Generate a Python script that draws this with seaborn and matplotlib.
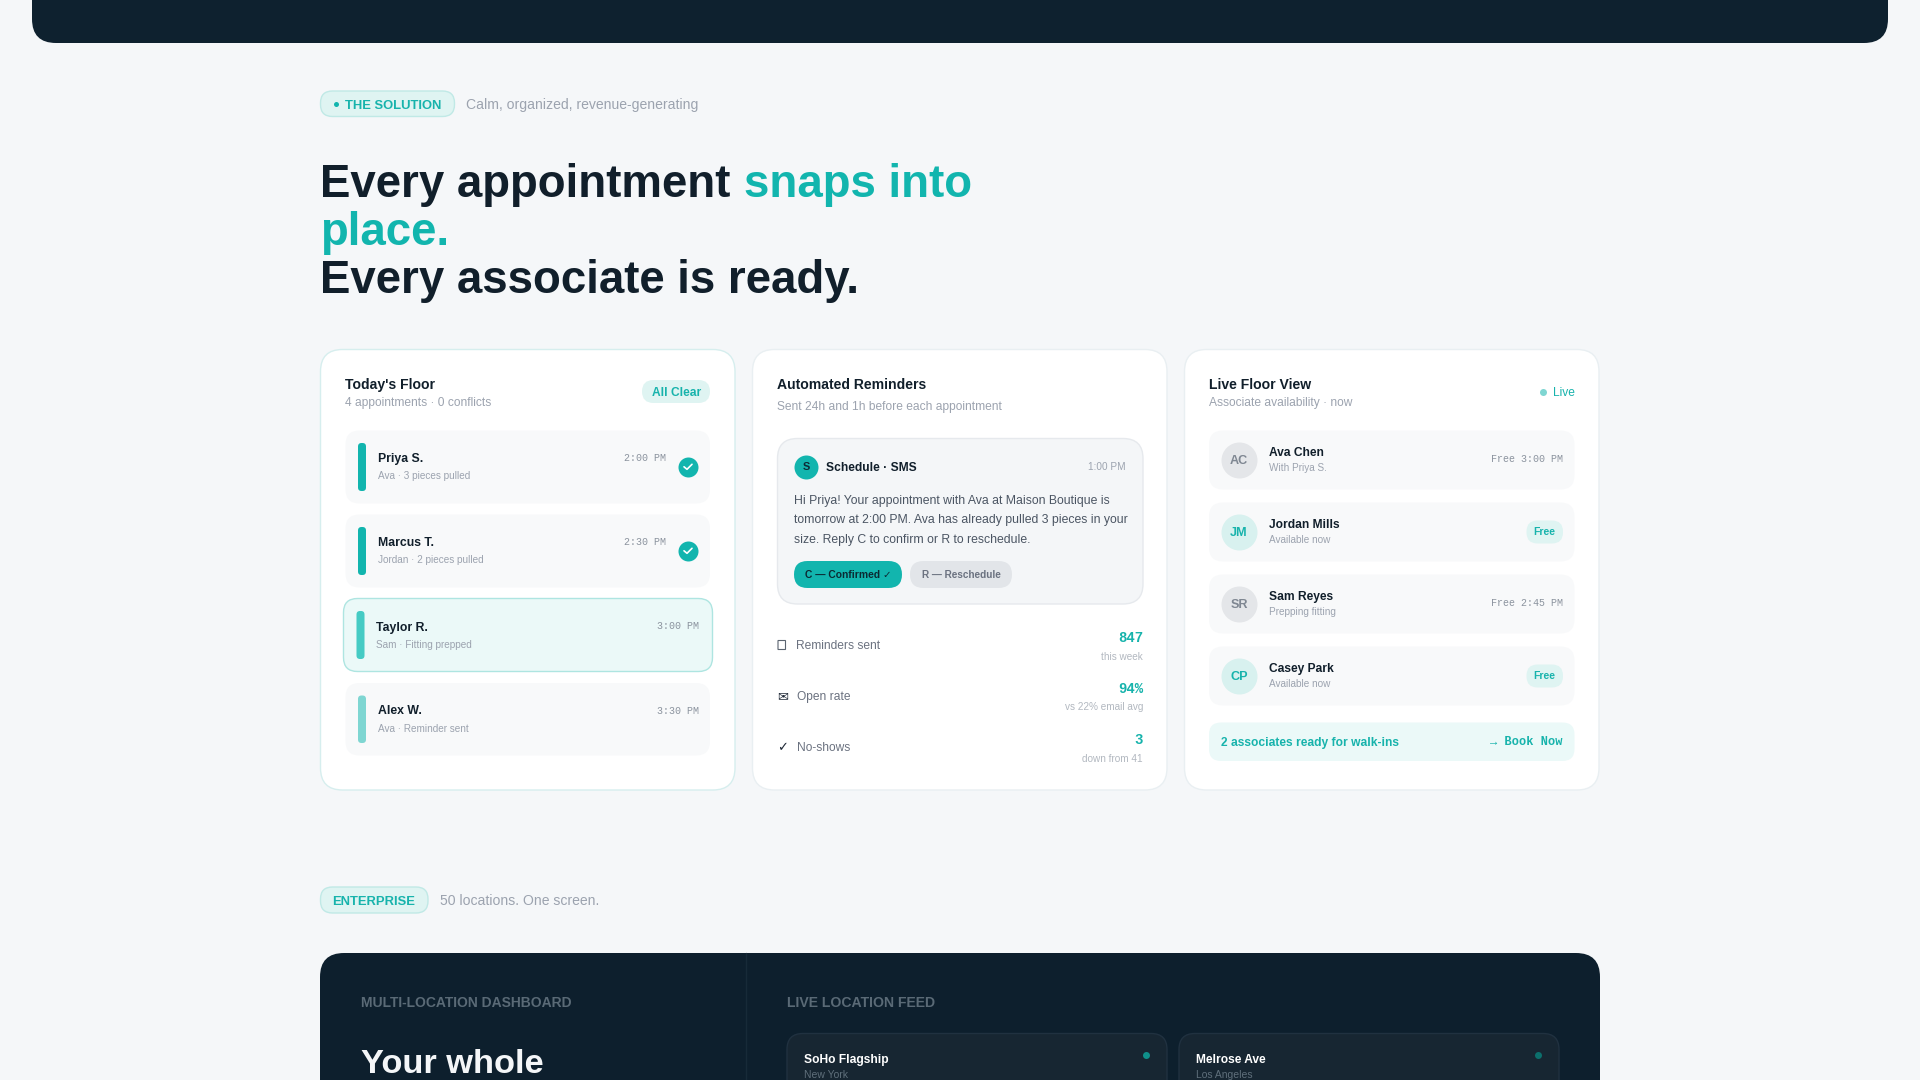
import matplotlib
matplotlib.use('Agg')
import matplotlib.pyplot as plt
from matplotlib.patches import FancyBboxPatch
import seaborn as sns

# --- data ---
floor_names = ['Priya S.', 'Marcus T.', 'Taylor R.', 'Alex W.']
floor_subs = ['Ava · 3 pieces pulled', 'Jordan · 2 pieces pulled', 'Sam · Fitting prepped', 'Ava · Reminder sent']
floor_times = ['2:00 PM', '2:30 PM', '3:00 PM', '3:30 PM']
floor_done = [True, True, False, False]

sms_lines = ['Hi Priya! Your appointment with Ava at Maison Boutique is',
             'tomorrow at 2:00 PM. Ava has already pulled 3 pieces in your',
             'size. Reply C to confirm or R to reschedule.']
stat_labels = ['Reminders sent', 'Open rate', 'No-shows']
stat_values = ['847', '94%', '3']
stat_notes = ['this week', 'vs 22% email avg', 'down from 41']

assoc_initials = ['AC', 'JM', 'SR', 'CP']
assoc_names = ['Ava Chen', 'Jordan Mills', 'Sam Reyes', 'Casey Park']
assoc_subs = ['With Priya S.', 'Available now', 'Prepping fitting', 'Available now']
assoc_status = ['Free 3:00 PM', 'Free', 'Free 2:45 PM', 'Free']

feed_names = ['SoHo Flagship', 'Melrose Ave']
feed_cities = ['New York', 'Los Angeles']

# colours
BG = '#f5f7f9'
DARK = '#0d1f2d'
INK = '#111f2b'
TEAL = '#12b5ae'
TEAL_TXT = '#17b3ac'
PILL = '#dff4f2'
PILL_EDGE = '#c0e9e6'
ROW = '#f8f9fa'
GREY = '#9ca3af'
MID = '#6b7280'

sns.set_theme(style='white')
plt.rcParams['font.family'] = ['Liberation Sans', 'DejaVu Sans']

fig = plt.figure(figsize=(19.2, 10.8), dpi=100, facecolor=BG)
ax = fig.add_axes([0, 0, 1, 1])
ax.set_facecolor(BG)
ax.set_xlim(0, 1920)
ax.set_ylim(1080, 0)
ax.axis('off')
ax.autoscale(False)


def box(x0, y0, x1, y1, r, fc, ec='none', lw=1.0, z=1):
    ax.add_patch(FancyBboxPatch((x0, y0), x1 - x0, y1 - y0,
                                boxstyle=f'round,pad=0,rounding_size={r}',
                                fc=fc, ec=ec, lw=lw, zorder=z))


def txt(x, yc, s, px, color=INK, weight='normal', ha='left', family=None):
    # yc is the middle of the x/cap band, px the css font size
    kw = {'family': family} if family else {}
    ax.text(x, yc + 0.35 * px, s, fontsize=px * 0.72, color=color, weight=weight,
            ha=ha, va='baseline', zorder=5, **kw)


def dots(xs, ys, diam, color):
    sns.scatterplot(x=xs, y=ys, s=(diam * 0.72) ** 2, color=color, linewidth=0,
                    ax=ax, legend=False, zorder=3)


MONO = ['Liberation Mono', 'DejaVu Sans']

# top band
box(32, -60, 1888, 43, 24, '#0e212f')

# section tag
box(320.5, 91, 454.5, 116.5, 12, PILL, PILL_EDGE)
dots([335.5], [104], 5, TEAL)
txt(345, 104, 'THE SOLUTION', 13, TEAL_TXT, 'bold')
txt(466.5, 104, 'Calm, organized, revenue-generating', 14, GREY)

# headline
HEAD = 45.7
txt(320, 181, 'Every appointment', HEAD, INK, 'bold')
txt(744.5, 181, 'snaps into', HEAD, TEAL, 'bold')
txt(320, 229, 'place.', HEAD, TEAL, 'bold')
txt(320, 277, 'Every associate is ready.', HEAD, INK, 'bold')

# cards
box(320.5, 349.5, 735, 790, 22, 'white', '#d6eeee')
box(752.5, 349.5, 1167, 790, 22, 'white', '#e9eff2')
box(1184.5, 349.5, 1599, 790, 22, 'white', '#e9eff2')

# card 1: today's floor
txt(345, 384, "Today's Floor", 14, INK, 'bold')
txt(345, 402, '4 appointments · 0 conflicts', 12, GREY)
box(642, 380, 710, 403, 11.5, PILL)
txt(676.5, 392, 'All Clear', 12, TEAL_TXT, 'bold', ha='center')

row_top = [430.5, 514.5, 598.5, 683]
row_bot = [503.5, 587.5, 671.5, 755.5]
bar_col = [TEAL, TEAL, '#45cbc4', '#7fd6d2']
for i, name in enumerate(floor_names):
    shift = -1.5 if i == 2 else 0
    nudge = 1 if i == 2 else 0
    if i == 2:
        box(343.5, row_top[i], 712.5, row_bot[i], 14, '#ebf9f8', '#aee5e1')
    else:
        box(345.5, row_top[i], 710, row_bot[i], 14, ROW)
    box(358 + shift, row_top[i] + 12.5, 366 + shift, row_bot[i] - 12.5, 3.5, bar_col[i])
    txt(378 + shift, row_top[i] + 27 + nudge, name, 12.2, INK, 'bold')
    txt(378 + shift, row_top[i] + 45 + nudge, floor_subs[i], 10, GREY)
    right = 666 if floor_done[i] else 699
    txt(right, row_top[i] + 27.2, floor_times[i], 10, '#8b939e', ha='right', family=MONO)
    if floor_done[i]:
        cy = row_top[i] + 36.3
        dots([688], [cy], 20, TEAL)
        ax.plot([684, 687, 692], [cy, cy + 2.5, cy - 2.5], color='white', lw=1.2,
                solid_capstyle='round', solid_joinstyle='round', zorder=4)

# card 2: reminders
txt(777, 384, 'Automated Reminders', 14, INK, 'bold')
txt(777, 406, 'Sent 24h and 1h before each appointment', 12, GREY)
box(777.5, 438.5, 1143, 604, 20, '#f4f6f8', '#e6e9ed')
dots([806], [467], 24, TEAL)
txt(806, 466.5, 'S', 11, '#0d2b35', 'bold', ha='center')
txt(826, 467, 'Schedule · SMS', 12, INK, 'bold')
txt(1126, 466.5, '1:00 PM', 10, GREY, ha='right')
for i, line in enumerate(sms_lines):
    txt(794, 499.5 + i * 19.5, line, 12.2, '#4b5563')
box(794, 561, 902, 588, 13.5, TEAL)
txt(848, 574, 'C — Confirmed ✓', 10.3, '#0b2a33', 'bold', ha='center')
box(910, 561, 1012, 588, 13.5, '#e2e5e9')
txt(961.5, 574, 'R — Reschedule', 10, MID, 'bold', ha='center')

label_x = [795.5, 797, 797]
box(778, 640.5, 785.5, 649.5, 0, 'none', '#5b6470', lw=0.8)
txt(777.5, 696, '✉', 13, '#1f2937', family='DejaVu Sans')
txt(777.5, 747, '✓', 13, '#1f2937', family='DejaVu Sans')
for i, label in enumerate(stat_labels):
    y = 645 + i * 51
    txt(label_x[i], y, label, 12, MID)
    txt(1143, y - 8, stat_values[i], 14, TEAL_TXT, 'bold', ha='right', family=MONO)
    txt(1143, y + 11, stat_notes[i], 10, '#b2b8c0', ha='right')

# card 3: live view
txt(1209, 384, 'Live Floor View', 14, INK, 'bold')
txt(1209, 402, 'Associate availability · now', 12, GREY)
dots([1543], [392], 7, '#7fd6d2')
txt(1575, 392, 'Live', 12, TEAL_TXT, ha='right')

for i, name in enumerate(assoc_names):
    top = 430.5 + i * 72
    free = assoc_status[i] == 'Free'
    box(1209, top, 1574.5, top + 59, 14, ROW)
    dots([1239], [top + 29.5], 36, '#d8f1ef' if free else '#e4e6e9')
    txt(1239, top + 29.5, assoc_initials[i], 12.6, TEAL_TXT if free else '#7f8792', 'bold', ha='center')
    txt(1269, top + 21, name, 12, INK, 'bold')
    txt(1269, top + 36.6, assoc_subs[i], 10, GREY)
    if free:
        box(1526.5, top + 18, 1563, top + 41, 11, PILL)
        txt(1544.7, top + 29, 'Free', 10.4, TEAL_TXT, 'bold', ha='center')
    else:
        txt(1563, top + 28, assoc_status[i], 10, '#8b939e', ha='right', family=MONO)

box(1209, 722.5, 1574.5, 761, 12, '#ebf9f8')
txt(1221, 741.5, '2 associates ready for walk-ins', 12, TEAL_TXT, 'bold')
txt(1563, 741, '→ Book Now', 12, TEAL_TXT, 'bold', ha='right', family=MONO)

# enterprise section
box(320.5, 887, 428, 913, 12, PILL, PILL_EDGE)
txt(374, 900, 'ENTERPRISE', 13, TEAL_TXT, 'bold', ha='center')
txt(440.5, 900, '50 locations. One screen.', 14, GREY)

box(320, 953, 1600, 1200, 24, DARK)
ax.plot([745.5, 745.5], [953, 1080], color='#172a38', lw=1, zorder=2)
txt(361, 1002, 'MULTI-LOCATION DASHBOARD', 13.9, '#5a6a76', 'bold')
txt(787, 1002, 'LIVE LOCATION FEED', 14, '#5a6a76', 'bold')
txt(361, 1061, 'Your whole', 34.4, '#f4f6f8', 'bold')

card_x = [787, 1179]
for i, name in enumerate(feed_names):
    box(card_x[i], 1033.5, card_x[i] + 380, 1200, 16, '#172632', '#203140')
    txt(card_x[i] + 17, 1059, name, 12, 'white', 'bold')
    txt(card_x[i] + 17, 1074.5, feed_cities[i], 10.4, '#5f6f7b')
dots([1146], [1055], 7, '#0f8f8a')
dots([1538], [1055], 7, '#0c6f6c')

fig.savefig('out.png', dpi=100, facecolor=BG)
plt.close()
